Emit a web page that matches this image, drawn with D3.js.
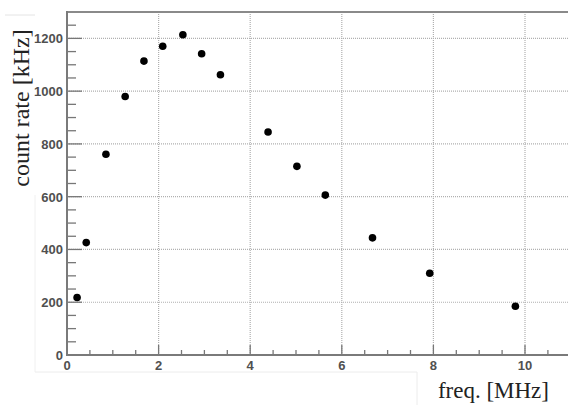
<!DOCTYPE html>
<html><head><meta charset="utf-8">
<script src="https://cdn.jsdelivr.net/npm/d3@7"></script>
<style>body{margin:0;background:#fff}svg{display:block}</style>
</head><body>
<svg id="c" width="568" height="405"></svg>
<script>
const freqMHz = [0.22, 0.42, 0.85, 1.27, 1.68, 2.09, 2.53, 2.94, 3.35, 4.39, 5.02, 5.64, 6.67, 7.92, 9.79];
const countRate = [218, 426, 761, 980, 1114, 1170, 1214, 1142, 1062, 845, 715, 606, 444, 310, 185];
const xTicks = [0, 2, 4, 6, 8, 10];
const yTicks = [0, 200, 400, 600, 800, 1000, 1200];
const xLabel = "freq. [MHz]";
const yLabel = "count rate [kHz]";

const svg = d3.select("#c");
const L = 67, T = 12, B = 355;
const x = d3.scaleLinear().domain([0, 10]).range([L, 525]);
const y = d3.scaleLinear().domain([0, 1300]).range([B, T]);
const R = 568;

// faint pasted-box edges
svg.append("line").attr("x1",5).attr("x2",35).attr("y1",15).attr("y2",15).attr("stroke","#e4e4e4");
svg.append("line").attr("x1",35).attr("x2",35).attr("y1",195).attr("y2",372).attr("stroke","#f0f0f0");
svg.append("line").attr("x1",35).attr("x2",417).attr("y1",372).attr("y2",372).attr("stroke","#ececec");
svg.append("line").attr("x1",417).attr("x2",417).attr("y1",372).attr("y2",405).attr("stroke","#ececec");

// grid
const g = svg.append("g");
g.selectAll(".gx").data(xTicks.filter(d=>d>0)).join("line")
  .attr("x1",d=>x(d)).attr("x2",d=>x(d)).attr("y1",T).attr("y2",B)
  .attr("stroke","#b0b0b0").attr("stroke-width",1.2).attr("stroke-dasharray","1,1");
g.selectAll(".gy").data(yTicks.filter(d=>d>0)).join("line")
  .attr("x1",L).attr("x2",R).attr("y1",d=>y(d)).attr("y2",d=>y(d))
  .attr("stroke","#b0b0b0").attr("stroke-width",1.2).attr("stroke-dasharray","1,1");

// minor ticks
const xMinor = d3.range(0, 11.01, 0.5).filter(v => v % 2 !== 0);
const yMinor = d3.range(0, 1300.1, 50).filter(v => v % 200 !== 0);
svg.selectAll(".mx").data(xMinor).join("line")
  .attr("x1",d=>x(d)).attr("x2",d=>x(d)).attr("y1",B).attr("y2",B-5)
  .attr("stroke","#777").attr("stroke-width",1.3);
svg.selectAll(".Mx").data(xTicks).join("line")
  .attr("x1",d=>x(d)).attr("x2",d=>x(d)).attr("y1",B).attr("y2",B-10)
  .attr("stroke","#777").attr("stroke-width",1.3);
svg.selectAll(".my").data(yMinor).join("line")
  .attr("x1",L).attr("x2",L+9).attr("y1",d=>y(d)).attr("y2",d=>y(d))
  .attr("stroke","#777").attr("stroke-width",1.3);
svg.selectAll(".My").data(yTicks).join("line")
  .attr("x1",L).attr("x2",L+15).attr("y1",d=>y(d)).attr("y2",d=>y(d))
  .attr("stroke","#777").attr("stroke-width",1.3);

// frame
svg.append("line").attr("x1",L).attr("x2",R).attr("y1",T).attr("y2",T).attr("stroke","#8a8a8a").attr("stroke-width",2);
svg.append("line").attr("x1",L).attr("x2",L).attr("y1",T-1).attr("y2",B+1).attr("stroke","#7a7a7a").attr("stroke-width",2);
svg.append("line").attr("x1",L-1).attr("x2",R).attr("y1",B).attr("y2",B).attr("stroke","#7a7a7a").attr("stroke-width",2);

// tick labels
const tf = "'Liberation Sans', Arial, sans-serif";
svg.selectAll(".xl").data(xTicks).join("text")
  .attr("x",d=>x(d)).attr("y",B+15).attr("text-anchor","middle")
  .attr("font-family",tf).attr("font-size",13).attr("font-weight","bold").attr("fill","#505050")
  .text(d=>d);
svg.selectAll(".yl").data(yTicks).join("text")
  .attr("x",L-4).attr("y",d=>y(d)+5).attr("text-anchor","end")
  .attr("font-family",tf).attr("font-size",13).attr("font-weight","bold").attr("fill","#505050")
  .text(d=>d);

// axis titles
const sf = "'Liberation Serif', 'DejaVu Serif', serif";
svg.append("text").attr("transform","translate(29,108) rotate(-90)").attr("text-anchor","middle")
  .attr("font-family",sf).attr("font-size",24).attr("fill","#222").text(yLabel);
svg.append("text").attr("x",549).attr("y",398).attr("text-anchor","end")
  .attr("font-family",sf).attr("font-size",23).attr("fill","#222").text(xLabel);

// points
svg.selectAll(".pt").data(freqMHz.map((f,i)=>[f,countRate[i]])).join("circle")
  .attr("cx",d=>x(d[0])).attr("cy",d=>y(d[1])).attr("r",3.8).attr("fill","#000");
</script>
</body></html>
